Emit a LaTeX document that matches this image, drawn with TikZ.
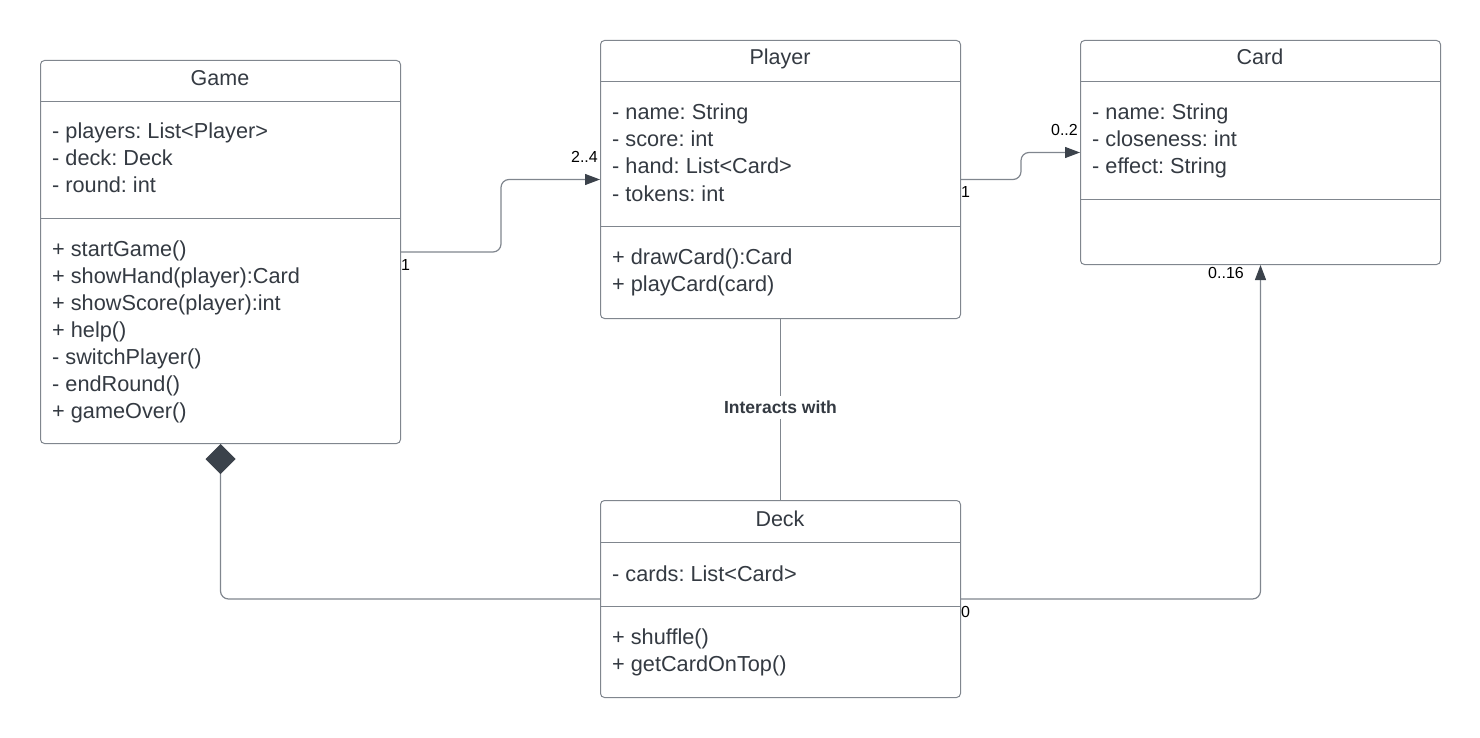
\documentclass[tikz,border=0pt]{standalone}
\usepackage{fontspec}
\setmainfont{Liberation Sans}
\usetikzlibrary{arrows.meta}
\definecolor{ln}{HTML}{80868E}
\definecolor{tx}{HTML}{343A42}
\definecolor{dk}{HTML}{3B424B}
\frenchspacing
\begin{document}
\begin{tikzpicture}[x=1pt,y=-1pt,
  cls/.style={draw=ln, line width=1pt, rounded corners=4pt, fill=white, inner sep=0pt, anchor=north west},
  sep/.style={draw=ln, line width=1pt},
  ttl/.style={text=tx, font=\fontsize{21.5}{25}\selectfont, anchor=base, inner sep=0pt},
  row/.style={text=tx, font=\fontsize{21.7}{25}\selectfont, anchor=base west, inner sep=0pt},
  mult/.style={text=black, font=\fontsize{16}{19}\selectfont, inner sep=0pt},
  conn/.style={draw=ln, line width=1.2pt, rounded corners=8pt},
  arr/.style={-{Triangle[length=15pt,width=11pt,color=dk]}},
  lbl/.style={text=tx, font=\bfseries\fontsize{17.5}{20}\selectfont, fill=white, inner sep=5pt}
]
\useasboundingbox (0,0) rectangle (1480,738);

% ---------- Game ----------
\node[cls, minimum width=360pt, minimum height=383pt] (game) at (40,60) {};
\draw[sep] (40,102) -- (400,102);
\draw[sep] (40,219) -- (400,219);
\node[ttl] (gameT) at (220,86) {Game};
\node[row] (g1) at (52,139) {- players: List<Player>};
\node[row] (g2) at (52,166) {- deck: Deck};
\node[row] (g3) at (52,193) {- round: int};
\node[row] (g4) at (52,256) {+ startGame()};
\node[row] (g5) at (52,283) {+ showHand(player):Card};
\node[row] (g6) at (52,310) {+ showScore(player):int};
\node[row] (g7) at (52,337) {+ help()};
\node[row] (g8) at (52,364) {- switchPlayer()};
\node[row] (g9) at (52,391) {- endRound()};
\node[row] (g10) at (52,418) {+ gameOver()};

% ---------- Player ----------
\node[cls, minimum width=360pt, minimum height=278pt] (player) at (600,40) {};
\draw[sep] (600,82) -- (960,82);
\draw[sep] (600,226) -- (960,226);
\node[ttl] (playerT) at (780,65) {Player};
\node[row] (p1) at (612,120) {- name: String};
\node[row] (p2) at (612,147) {- score: int};
\node[row] (p3) at (612,174) {- hand: List<Card>};
\node[row] (p4) at (612,201) {- tokens: int};
\node[row] (p5) at (612,264) {+ drawCard():Card};
\node[row] (p6) at (612,291) {+ playCard(card)};

% ---------- Card ----------
\node[cls, minimum width=360pt, minimum height=224pt] (card) at (1080,40) {};
\draw[sep] (1080,82) -- (1440,82);
\draw[sep] (1080,200) -- (1440,200);
\node[ttl] (cardT) at (1260,65) {Card};
\node[row] (c1) at (1092,120) {- name: String};
\node[row] (c2) at (1092,147) {- closeness: int};
\node[row] (c3) at (1092,174) {- effect: String};

% ---------- Deck ----------
\node[cls, minimum width=360pt, minimum height=197pt] (deck) at (600,500) {};
\draw[sep] (600,542) -- (960,542);
\draw[sep] (600,606) -- (960,606);
\node[ttl] (deckT) at (780,526) {Deck};
\node[row] (d1) at (612,581) {- cards: List<Card>};
\node[row] (d2) at (612,644) {+ shuffle()};
\node[row] (d3) at (612,671) {+ getCardOnTop()};

% ---------- Connectors ----------
\draw[conn, arr] (game.east) -- ++(100,0) |- (player.west);
\node[mult, anchor=base west] (m1) at (401,270) {1};
\node[mult, anchor=base east] (m2) at (598,163) {2..4};

\draw[conn, arr] (player.east) -- ++(60,0) |- (card.west);
\node[mult, anchor=base west] (m3) at (961,197) {1};
\node[mult, anchor=base east] (m4) at (1078,136) {0..2};

\draw[conn] (player.south) -- node[lbl, pos=0.489] (iw) {Interacts with} (deck.north);

\draw[conn, {Diamond[length=30pt,width=30pt,color=dk]}-] (game.south) |- (deck.west);

\draw[conn, arr] (deck.east) -| (card.south);
\node[mult, anchor=base west] (m5) at (961,617) {0};
\node[mult, anchor=base east] (m6) at (1244,278) {0..16};
\end{tikzpicture}
\end{document}
